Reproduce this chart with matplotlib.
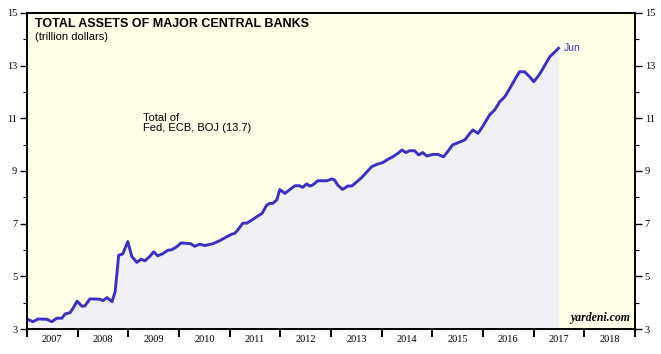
import matplotlib.pyplot as plt
from matplotlib.ticker import FixedLocator, NullFormatter

# monthly-ish readings, decimal year
years = [
    2007.02, 2007.12, 2007.22, 2007.39, 2007.49, 2007.59, 2007.69, 2007.75, 2007.85, 2007.91,
    2007.99, 2008.08, 2008.14, 2008.24, 2008.34, 2008.44, 2008.50, 2008.58, 2008.68, 2008.74,
    2008.81, 2008.89, 2008.99, 2009.07, 2009.17, 2009.25, 2009.33, 2009.43, 2009.50, 2009.58,
    2009.68, 2009.78, 2009.86, 2009.96, 2010.04, 2010.16, 2010.23, 2010.31, 2010.41, 2010.51,
    2010.67, 2010.81, 2010.94, 2011.04, 2011.10, 2011.16, 2011.26, 2011.34, 2011.44, 2011.54,
    2011.64, 2011.73, 2011.79, 2011.85, 2011.93, 2011.99, 2012.09, 2012.19, 2012.29, 2012.38,
    2012.44, 2012.52, 2012.58, 2012.64, 2012.74, 2012.84, 2012.92, 2013.02, 2013.07, 2013.13,
    2013.23, 2013.33, 2013.41, 2013.51, 2013.61, 2013.71, 2013.80, 2013.90, 2014.02, 2014.12,
    2014.22, 2014.32, 2014.40, 2014.48, 2014.55, 2014.65, 2014.73, 2014.81, 2014.89, 2015.01,
    2015.11, 2015.22, 2015.30, 2015.40, 2015.50, 2015.64, 2015.74, 2015.80, 2015.90, 2015.99,
    2016.13, 2016.23, 2016.33, 2016.43, 2016.53, 2016.66, 2016.72, 2016.82, 2016.92, 2017.00,
    2017.08, 2017.16, 2017.26, 2017.32, 2017.39, 2017.49,
]
assets = [
    3.36, 3.28, 3.38, 3.37, 3.28, 3.41, 3.41, 3.57, 3.62, 3.79,
    4.06, 3.87, 3.87, 4.14, 4.14, 4.13, 4.08, 4.19, 4.04, 4.42,
    5.80, 5.85, 6.32, 5.75, 5.53, 5.65, 5.59, 5.77, 5.93, 5.78,
    5.86, 5.99, 6.01, 6.13, 6.27, 6.25, 6.24, 6.14, 6.22, 6.17,
    6.24, 6.36, 6.50, 6.60, 6.63, 6.76, 7.02, 7.02, 7.14, 7.27,
    7.39, 7.70, 7.77, 7.77, 7.90, 8.30, 8.15, 8.30, 8.44, 8.44,
    8.38, 8.51, 8.43, 8.47, 8.63, 8.63, 8.63, 8.70, 8.66, 8.47,
    8.30, 8.43, 8.43, 8.59, 8.76, 8.97, 9.16, 9.25, 9.32, 9.44,
    9.54, 9.67, 9.80, 9.70, 9.77, 9.77, 9.61, 9.70, 9.57, 9.63,
    9.63, 9.54, 9.73, 9.99, 10.07, 10.18, 10.43, 10.56, 10.43, 10.68,
    11.13, 11.32, 11.63, 11.82, 12.14, 12.58, 12.77, 12.77, 12.58, 12.39,
    12.58, 12.81, 13.15, 13.34, 13.47, 13.66,
]
year_labels = [str(y) for y in range(2007, 2019)]
y_ticks = [3, 5, 7, 9, 11, 13, 15]

line_color = "#3b30c2"
serif = ["Liberation Serif", "DejaVu Serif"]
sans = ["Liberation Sans", "DejaVu Sans"]

fig = plt.figure(figsize=(6.61, 3.54), dpi=100)
ax = fig.add_axes([0.0408, 0.0706, 0.9199, 0.8927])
ax.set_facecolor("#fffee6")

# area under the line
ax.fill_between(years, assets, 3, color="#efeff4", linewidth=0)
ax.plot(years, assets, color=line_color, linewidth=2.1)

ax.set_xlim(2007, 2019)
ax.set_ylim(3, 15)

# year boundaries as ticks, labels centred in each year
ax.set_xticks(range(2007, 2020))
ax.xaxis.set_major_formatter(NullFormatter())
ax.xaxis.set_minor_locator(FixedLocator([y + 0.5 for y in range(2007, 2019)]))
ax.set_xticklabels(year_labels, minor=True, fontfamily=serif, fontsize=7.5)
ax.tick_params(axis="x", which="major", direction="out", length=6, width=1.4)
ax.tick_params(axis="x", which="minor", length=0, pad=4)

ax.set_yticks(y_ticks)
ax.yaxis.set_minor_locator(FixedLocator([4, 6, 8, 10, 12, 14]))
ax.tick_params(axis="y", which="both", left=True, right=True,
               labelleft=True, labelright=True, direction="out")
ax.tick_params(axis="y", which="major", length=5, width=1, pad=2)
ax.tick_params(axis="y", which="minor", length=3, width=0.8)
for lab in ax.get_yticklabels():
    lab.set_fontfamily(serif)
    lab.set_fontsize(7.5)

for s in ax.spines.values():
    s.set_linewidth(1.4)

ax.text(0.013, 0.985, "TOTAL ASSETS OF MAJOR CENTRAL BANKS",
        transform=ax.transAxes, ha="left", va="top",
        fontsize=9, fontweight="bold", fontfamily=sans)
ax.text(0.013, 0.94, "(trillion dollars)",
        transform=ax.transAxes, ha="left", va="top",
        fontsize=8, fontfamily=sans)

ax.text(0.191, 0.685, "Total of\nFed, ECB, BOJ (13.7)",
        transform=ax.transAxes, ha="left", va="top",
        fontsize=8, fontfamily=sans, linespacing=1.05)

ax.annotate("Jun", (years[-1], assets[-1]), xytext=(4, 0),
            textcoords="offset points", ha="left", va="center",
            fontsize=7.5, color=line_color, fontfamily=sans)

ax.text(0.992, 0.015, "yardeni.com", transform=ax.transAxes,
        ha="right", va="bottom", fontsize=8.5, fontweight="bold",
        fontstyle="italic", fontfamily=serif)

fig.savefig("out.png", dpi=100, facecolor="white")
